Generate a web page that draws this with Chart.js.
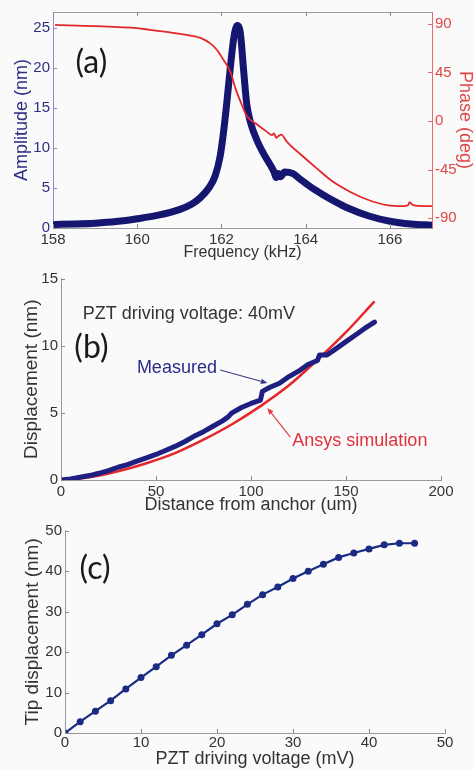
<!DOCTYPE html>
<html><head><meta charset="utf-8">
<script src="https://cdn.jsdelivr.net/npm/chart.js@4.4.1/dist/chart.umd.min.js"></script>
<style>
html,body{margin:0;padding:0;background:#fafafa;}
#wrap{position:relative;width:474px;height:770px;overflow:hidden;}
canvas{position:absolute;left:0;}
</style></head><body>
<div id="wrap">
<canvas id="ca" width="474" height="262" style="top:0px"></canvas>
<canvas id="cb" width="474" height="254" style="top:262px"></canvas>
<canvas id="cc" width="474" height="254" style="top:516px"></canvas>
</div>
<script>
// ---------- Panel (a) data ----------
const freqAmp = [158.05,158.5,159,159.5,160,160.5,161,161.3,161.5,161.7,161.85,161.97,162.05,162.13,162.21,162.3,162.38,162.45,162.53,162.6,162.69,162.84,163.0,163.17,163.25,163.3,163.35,163.4,163.5,163.7,163.87,164.1,164.4,164.7,165.0,165.5,166.0,166.5,167.0];
const amplitudeNm = [0.45,0.5,0.6,0.8,1.15,1.6,2.3,3.0,3.8,5.0,6.5,9.0,12.0,15.8,20.0,24.0,25.3,24.3,19.5,15.5,13.2,11.0,9.3,7.8,7.0,6.3,6.8,6.4,7.0,6.8,6.1,5.2,4.2,3.3,2.5,1.5,0.85,0.5,0.35];
const freqPhase = [158.05,159,160,160.3,160.7,161.1,161.5,161.74,161.9,162.05,162.21,162.33,162.45,162.6,162.84,163.08,163.2,163.25,163.3,163.35,163.42,163.56,163.87,164.27,164.66,165.06,165.46,165.93,166.33,166.43,166.47,166.52,166.6,167.0];
const phaseDeg = [89,88,86,84.5,82.5,80.3,77,71.7,65.6,56.5,45.8,30.5,18.3,5,-3,-10,-13,-11.5,-15.5,-14,-12.5,-19.5,-30.5,-44,-56.5,-65.6,-72.6,-77.8,-78.8,-78,-75,-77,-78.3,-78.8];
const freqTicks = [158,160,162,164,166];
const ampTicks = [0,5,10,15,20,25];
const phaseTicks = [-90,-45,0,45,90];

// ---------- Panel (b) data ----------
const distMeasured = [0,5,10,15,20,25,30,35,40,45,50,55,60,65,70,75,80,85,88,90,95,100,105,106,110,115,120,125,130,135,136,140,145,150,155,160,165];
const dispMeasured = [0,0.08,0.2,0.33,0.5,0.7,0.95,1.15,1.4,1.65,1.9,2.2,2.5,2.85,3.25,3.6,4.0,4.4,4.7,5.0,5.4,5.7,5.95,6.6,6.9,7.2,7.7,8.1,8.6,8.9,9.3,9.3,9.8,10.3,10.8,11.3,11.75];
const distSim = [0,15,30,45,60,75,90,105,120,135,150,165];
const dispSim = [0,0.2,0.65,1.25,2.0,3.0,4.15,5.5,7.05,8.95,11.0,13.3];
const distTicks = [0,50,100,150,200];
const dispTicks = [0,5,10,15];

// ---------- Panel (c) data ----------
const voltageMv = [0,2,4,6,8,10,12,14,16,18,20,22,24,26,28,30,32,34,36,38,40,42,44,46];
const tipDispNm = [0,2.8,5.4,8.0,10.9,13.7,16.4,19.2,21.7,24.3,27.0,29.2,31.8,34.2,36.1,38.2,40.0,41.7,43.4,44.5,45.5,46.5,46.9,46.9];
const voltTicks = [0,10,20,30,40,50];
const tipTicks = [0,10,20,30,40,50];

const zip = (xs, ys) => xs.map((x, i) => ({x: x, y: ys[i]}));

Chart.defaults.font.family = "'Liberation Sans', Arial, Helvetica, sans-serif";
Chart.defaults.color = '#333';
Chart.defaults.animation = false;
Chart.defaults.responsive = false;
Chart.defaults.devicePixelRatio = 1;
Chart.defaults.plugins.legend.display = false;
Chart.defaults.plugins.tooltip.enabled = false;
Chart.defaults.elements.point.radius = 0;

function axis(o) {
  return {
    type: 'linear', position: o.pos, min: o.min, max: o.max,
    afterFit: s => { if (o.w != null) s.width = o.w; if (o.h != null) s.height = o.h; },
    afterBuildTicks: s => { s.ticks = o.ticks.map(v => ({value: v})); },
    grid: {display: true, drawOnChartArea: false, drawTicks: false},
    border: {display: true, color: o.lineColor, width: 1},
    ticks: {color: o.tickColor, font: {size: 15}, padding: o.pad == null ? 3 : o.pad, maxRotation: 0, autoSkip: false},
    title: {display: true, text: o.title, color: o.titleColor, font: {size: o.titleSize}, padding: o.titlePad}
  };
}

function deco(cfg) {
  return {
    id: 'deco',
    afterDraw(chart) {
      const ctx = chart.ctx, a = chart.chartArea;
      ctx.save();
      (cfg.boxTop ? [cfg.boxTop] : []).forEach(c => {
        ctx.strokeStyle = c; ctx.lineWidth = 1;
        ctx.beginPath(); ctx.moveTo(a.left, a.top + 0.5); ctx.lineTo(a.right, a.top + 0.5); ctx.stroke();
      });
      (cfg.ticks || []).forEach(it => {
        const s = chart.scales[it.scale];
        const L = it.len || 4;
        ctx.strokeStyle = it.color; ctx.lineWidth = 1;
        ctx.beginPath();
        s.ticks.forEach(t => {
          const p = Math.round(s.getPixelForValue(t.value)) + 0.5;
          if (it.edge === 'bottom') { ctx.moveTo(p, a.bottom); ctx.lineTo(p, a.bottom - L); }
          if (it.edge === 'top') { ctx.moveTo(p, a.top); ctx.lineTo(p, a.top + L); }
          if (it.edge === 'left') { ctx.moveTo(a.left, p); ctx.lineTo(a.left + L, p); }
          if (it.edge === 'right') { ctx.moveTo(a.right, p); ctx.lineTo(a.right - L, p); }
        });
        ctx.stroke();
      });
      const xs = chart.scales.x, ys = chart.scales.y;
      (cfg.notes || []).forEach(n => {
        if (n.type === 'text') {
          ctx.font = n.font; ctx.fillStyle = n.color;
          ctx.textAlign = n.align || 'center'; ctx.textBaseline = 'middle';
          ctx.fillText(n.text, xs.getPixelForValue(n.x), ys.getPixelForValue(n.y));
        } else if (n.type === 'arrow') {
          const x1 = xs.getPixelForValue(n.x1), y1 = ys.getPixelForValue(n.y1);
          const x2 = xs.getPixelForValue(n.x2), y2 = ys.getPixelForValue(n.y2);
          const ang = Math.atan2(y2 - y1, x2 - x1), H = 7, sp = 0.4;
          ctx.strokeStyle = n.color; ctx.fillStyle = n.color; ctx.lineWidth = 1.2;
          ctx.beginPath(); ctx.moveTo(x1, y1); ctx.lineTo(x2 - H * 0.7 * Math.cos(ang), y2 - H * 0.7 * Math.sin(ang)); ctx.stroke();
          ctx.beginPath(); ctx.moveTo(x2, y2);
          ctx.lineTo(x2 - H * Math.cos(ang - sp), y2 - H * Math.sin(ang - sp));
          ctx.lineTo(x2 - H * Math.cos(ang + sp), y2 - H * Math.sin(ang + sp));
          ctx.closePath(); ctx.fill();
        }
      });
      ctx.restore();
    }
  };
}

const navy = '#15166f';
const red = '#e5262b';
const labelFont = "32px Lato, 'Open Sans', sans-serif";

// ---------- Chart (a) ----------
new Chart(document.getElementById('ca'), {
  type: 'scatter',
  data: {datasets: [
    {data: zip(freqPhase, phaseDeg), yAxisID: 'y2', showLine: true, borderColor: red, borderWidth: 1.8, cubicInterpolationMode: 'monotone'},
    {data: zip(freqAmp, amplitudeNm), yAxisID: 'y', showLine: true, borderColor: navy, borderWidth: 7, borderCapStyle: 'round', borderJoinStyle: 'round', cubicInterpolationMode: 'monotone'}
  ]},
  options: {
    layout: {padding: {top: 10, left: 0, right: 0, bottom: 0}},
    scales: {
      x: axis({pos: 'bottom', min: 158, max: 167, ticks: freqTicks, h: 34, lineColor: '#9a9a9a', tickColor: '#333', title: 'Frequency (kHz)', titleColor: '#333', titleSize: 16, titlePad: {top: 0, bottom: 0}}),
      y: axis({pos: 'left', min: 0, max: 27, ticks: ampTicks, w: 53, lineColor: '#8d8dbd', tickColor: '#2d2d84', title: 'Amplitude (nm)', titleColor: '#2d2d84', titleSize: 18, titlePad: {top: 11, bottom: 0}}),
      y2: axis({pos: 'right', min: -99, max: 101, ticks: phaseTicks, w: 42, lineColor: '#e66a6a', tickColor: '#e04848', title: 'Phase (deg)', titleColor: '#e04848', titleSize: 18, titlePad: {top: -2, bottom: 0}})
    }
  },
  plugins: [deco({
    boxTop: '#9a9a9a',
    ticks: [
      {scale: 'x', edge: 'bottom', color: '#888'},
      {scale: 'x', edge: 'top', color: '#888'},
      {scale: 'y', edge: 'left', color: '#8d8dbd'},
      {scale: 'y2', edge: 'right', color: '#e66a6a'}
    ],
    notes: [{type: 'text', text: '(a)', x: 158.91, y: 20.7, font: labelFont, color: '#1a1a1a'}]
  })]
});

// ---------- Chart (b) ----------
new Chart(document.getElementById('cb'), {
  type: 'scatter',
  data: {datasets: [
    {data: zip(distMeasured, dispMeasured), showLine: true, borderColor: '#1e1f80', borderWidth: 5, borderJoinStyle: 'round', borderCapStyle: 'round'},
    {data: zip(distSim, dispSim), showLine: true, borderColor: red, borderWidth: 2.5, cubicInterpolationMode: 'monotone'}
  ]},
  options: {
    layout: {padding: {top: 16.5, left: 0, right: 33, bottom: 0}},
    scales: {
      x: axis({pos: 'bottom', min: 0, max: 200, ticks: distTicks, h: 36, lineColor: '#999', tickColor: '#333', title: 'Distance from anchor (um)', titleColor: '#333', titleSize: 18, titlePad: {top: 0, bottom: 0}}),
      y: axis({pos: 'left', min: 0, max: 15, ticks: dispTicks, w: 61, lineColor: '#999', tickColor: '#333', title: 'Displacement (nm)', titleColor: '#333', titleSize: 19, titlePad: {top: 20, bottom: 0}})
    }
  },
  plugins: [deco({
    ticks: [
      {scale: 'x', edge: 'bottom', color: '#888'},
      {scale: 'y', edge: 'left', color: '#888'}
    ],
    notes: [
      {type: 'text', text: 'PZT driving voltage: 40mV', x: 11.5, y: 12.36, font: "18px 'Liberation Sans', Arial, sans-serif", color: '#333', align: 'left'},
      {type: 'text', text: '(b)', x: 16, y: 9.83, font: labelFont, color: '#1a1a1a'},
      {type: 'text', text: 'Measured', x: 61, y: 8.34, font: "18px 'Liberation Sans', Arial, sans-serif", color: '#2b2b8c'},
      {type: 'text', text: 'Ansys simulation', x: 157.3, y: 2.87, font: "18px 'Liberation Sans', Arial, sans-serif", color: '#e0303a'},
      {type: 'arrow', x1: 83.8, y1: 8.19, x2: 108.6, y2: 7.22, color: '#3a3a90'},
      {type: 'arrow', x1: 120.7, y1: 3.2, x2: 108.6, y2: 5.36, color: '#e04040'}
    ]
  })]
});

// ---------- Chart (c) ----------
new Chart(document.getElementById('cc'), {
  type: 'scatter',
  data: {datasets: [
    {data: zip(voltageMv, tipDispNm), showLine: true, borderColor: '#1b2a83', borderWidth: 2.2, pointRadius: 3.5, pointBackgroundColor: '#1b2a83', pointBorderWidth: 0}
  ]},
  options: {
    layout: {padding: {top: 14.7, left: 0, right: 29, bottom: 0}},
    scales: {
      x: axis({pos: 'bottom', min: 0, max: 50, ticks: voltTicks, h: 37, pad: 1, lineColor: '#999', tickColor: '#333', title: 'PZT driving voltage (mV)', titleColor: '#333', titleSize: 18, titlePad: {top: 0, bottom: 0}}),
      y: axis({pos: 'left', min: 0, max: 50, ticks: tipTicks, w: 65, lineColor: '#999', tickColor: '#333', title: 'Tip displacement (nm)', titleColor: '#333', titleSize: 19, titlePad: {top: 21.5, bottom: 0}})
    }
  },
  plugins: [deco({
    ticks: [
      {scale: 'x', edge: 'bottom', color: '#888'},
      {scale: 'y', edge: 'left', color: '#888'}
    ],
    notes: [{type: 'text', text: '(c)', x: 3.95, y: 40.7, font: labelFont, color: '#1a1a1a'}]
  })]
});
</script>
</body></html>
